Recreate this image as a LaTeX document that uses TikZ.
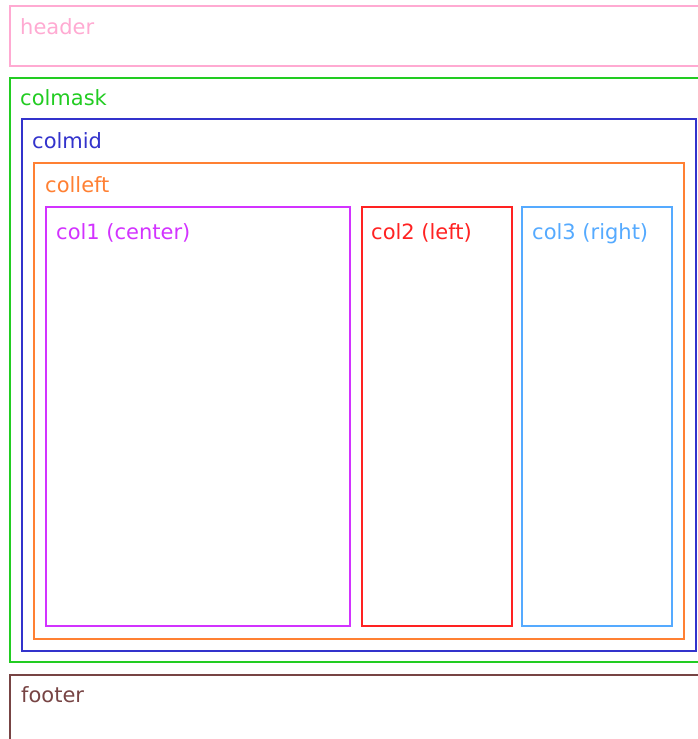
\documentclass[tikz,border=0pt]{standalone}
\usepackage{fontspec}
\setmainfont{DejaVu Sans}
\definecolor{cheader}{RGB}{255,170,210}
\definecolor{cmask}{RGB}{34,204,34}
\definecolor{cmid}{RGB}{51,51,204}
\definecolor{cleft}{RGB}{255,128,51}
\definecolor{cone}{RGB}{210,51,255}
\definecolor{ctwo}{RGB}{255,34,34}
\definecolor{cthree}{RGB}{85,170,255}
\definecolor{cfoot}{RGB}{119,68,68}
\begin{document}
\begin{tikzpicture}[x=1pt,y=-1pt,
  box/.style={line width=2pt},
  lbl/.style={anchor=base west,inner sep=0pt,font=\fontsize{21}{25}\selectfont}]
\useasboundingbox (0,0) rectangle (698,739);
\clip (0,0) rectangle (698,739);
% header
\draw[box,cheader] (9.5,6) rectangle (710,65.5);
\node[lbl,text=cheader] (lheader) at (20,34) {header};
% colmask
\draw[box,cmask] (9.5,78) rectangle (710,662);
\node[lbl,text=cmask] (lmask) at (20,105) {colmask};
% colmid
\draw[box,cmid] (21.5,119) rectangle (695.5,650.5);
\node[lbl,text=cmid] (lmid) at (32,148) {colmid};
% colleft
\draw[box,cleft] (33.5,163) rectangle (683.5,638.5);
\node[lbl,text=cleft] (lleft) at (45,192) {colleft};
% columns
\draw[box,cone] (45.5,207) rectangle (350,626);
\node[lbl,text=cone] (lone) at (56,239) {col1 (center)};
\draw[box,ctwo] (361.5,207) rectangle (511.5,626);
\node[lbl,text=ctwo] (ltwo) at (371,239) {col2 (left)};
\draw[box,cthree] (522,207) rectangle (672,626);
\node[lbl,text=cthree] (lthree) at (532,239) {col3 (right)};
% footer
\draw[box,cfoot] (10,675) rectangle (710,760);
\node[lbl,text=cfoot] (lfoot) at (21,702) {footer};
\end{tikzpicture}
\end{document}
